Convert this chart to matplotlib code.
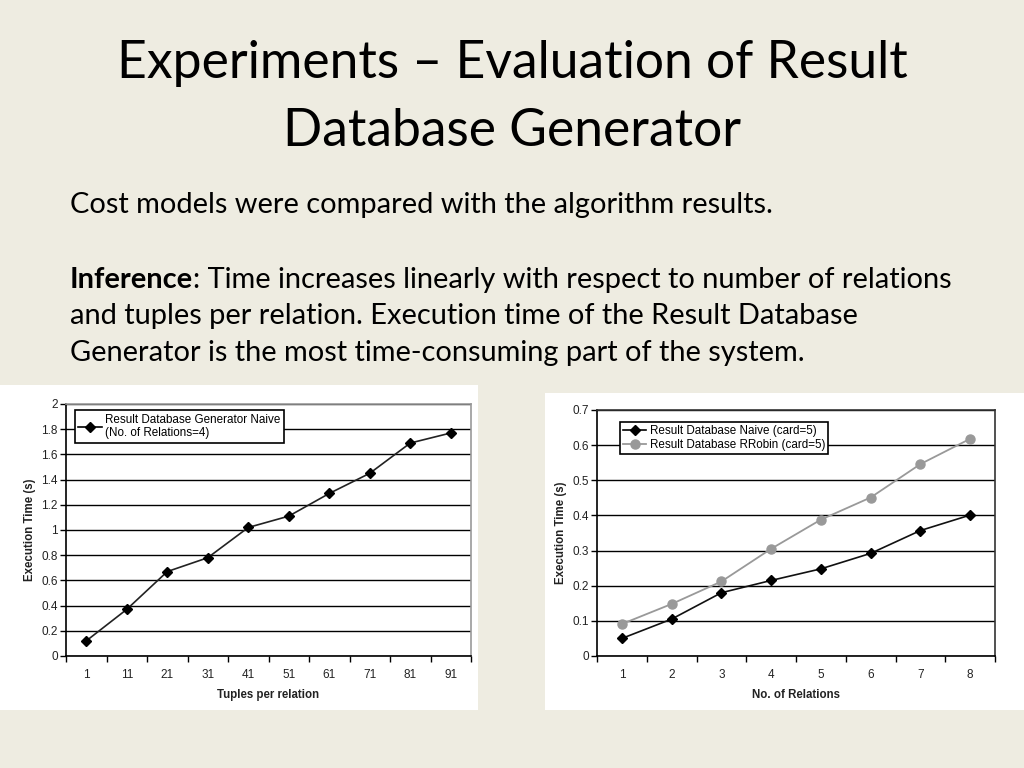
import matplotlib
matplotlib.use('Agg')
import matplotlib.pyplot as plt
from matplotlib.lines import Line2D

# ================== data ==================
TUPLES = ['1', '11', '21', '31', '41', '51', '61', '71', '81', '91']
TIME_NAIVE_TUPLES = [0.12, 0.37, 0.67, 0.78, 1.02, 1.11, 1.29, 1.45, 1.69, 1.77]

RELATIONS = ['1', '2', '3', '4', '5', '6', '7', '8']
TIME_NAIVE_REL = [0.05, 0.105, 0.18, 0.215, 0.248, 0.292, 0.357, 0.401]
TIME_RROBIN_REL = [0.091, 0.148, 0.212, 0.305, 0.388, 0.451, 0.546, 0.618]

LEFT_YTICKS = [0, 0.2, 0.4, 0.6, 0.8, 1, 1.2, 1.4, 1.6, 1.8, 2]
RIGHT_YTICKS = [0, 0.1, 0.2, 0.3, 0.4, 0.5, 0.6, 0.7]

BG = '#EEECE1'
W, H = 1024, 768

fig = plt.figure(figsize=(W / 100, H / 100), dpi=100, facecolor=BG)


def px_rect(x0, y0, x1, y1):
    """pixel box (top-left origin) -> figure fraction rect"""
    return [x0 / W, 1 - y1 / H, (x1 - x0) / W, (y1 - y0) / H]


# white panels behind the charts
for box in [(0, 385, 478, 710), (545, 393, 1024, 710)]:
    bg = fig.add_axes(px_rect(*box))
    bg.set_facecolor('white')
    bg.set_xticks([])
    bg.set_yticks([])
    for s in bg.spines.values():
        s.set_visible(False)

# ================== text ==================
TITLE_FONT = ['Lato', 'DejaVu Sans']
TITLE_FS = 37.2
fig.text(0.5, 1 - 78 / H, 'Experiments – Evaluation of Result', ha='center', va='baseline',
         fontsize=TITLE_FS, family=TITLE_FONT)
fig.text(0.5, 1 - 146 / H, 'Database Generator', ha='center', va='baseline',
         fontsize=TITLE_FS, family=TITLE_FONT)

BODY = 20.9
fig.text(70 / W, 1 - 213 / H, 'Cost models were compared with the algorithm results.',
         va='baseline', fontsize=BODY, family=TITLE_FONT)

renderer = fig.canvas.get_renderer()
t_bold = fig.text(70 / W, 1 - 288 / H, 'Inference', va='baseline', fontsize=BODY,
                  family=TITLE_FONT, fontweight='bold')
bb = t_bold.get_window_extent(renderer)
fig.text(bb.x1 / W, 1 - 288 / H,
         ': Time increases linearly with respect to number of relations',
         va='baseline', fontsize=BODY, family=TITLE_FONT)
fig.text(70 / W, 1 - 324 / H,
         'and tuples per relation. Execution time of the Result Database',
         va='baseline', fontsize=BODY, family=TITLE_FONT)
fig.text(70 / W, 1 - 361 / H,
         'Generator is the most time-consuming part of the system.',
         va='baseline', fontsize=BODY, family=TITLE_FONT)

CHART_FONT = ['Liberation Sans', 'DejaVu Sans']
TICK_FS = 8.5
LEG_FS = 8.4


def style_axes(ax, n, yticks, ylabel, xlabel, edge_col):
    ax.set_facecolor('white')
    ax.set_xlim(0, n)
    ax.set_ylim(yticks[0], yticks[-1])
    ax.set_yticks(yticks)
    ax.set_yticklabels([('%g' % v) for v in yticks], fontsize=TICK_FS, family=CHART_FONT,
                       color='#222222')
    ax.set_xticks(range(n + 1))
    ax.set_xticklabels([])
    ax.set_xticks([i + 0.5 for i in range(n)], minor=True)
    ax.tick_params(axis='x', which='major', direction='out', length=4, width=1)
    ax.tick_params(axis='x', which='minor', length=0, pad=9)
    ax.tick_params(axis='y', direction='out', length=4, width=1, pad=2)
    ax.yaxis.grid(True, color='black', linewidth=1)
    ax.set_axisbelow(True)
    ax.spines['left'].set_color('black')
    ax.spines['bottom'].set_color('black')
    ax.spines['top'].set_color(edge_col)
    ax.spines['right'].set_color(edge_col)
    for s in ax.spines.values():
        s.set_linewidth(1.2)
    ax.set_ylabel(ylabel, fontsize=8.3, fontweight='bold', family=CHART_FONT, labelpad=4,
                  color='#222222')
    ax.set_xlabel(xlabel, fontsize=8.3, fontweight='bold', family=CHART_FONT, labelpad=6,
                  color='#222222')


# ================== left chart ==================
ax1 = fig.add_axes(px_rect(66, 404, 471, 656))
style_axes(ax1, len(TUPLES), LEFT_YTICKS, 'Execution Time (s)', 'Tuples per relation', '#999999')
ax1.set_xticklabels(TUPLES, minor=True, fontsize=TICK_FS, family=CHART_FONT, color='#222222')
x1 = [i + 0.5 for i in range(len(TUPLES))]
ax1.plot(x1, TIME_NAIVE_TUPLES, color='#222222', linewidth=1.2, marker='D', markersize=5.5,
         markerfacecolor='black', markeredgecolor='black', zorder=3)
h1 = Line2D([], [], color='black', linewidth=1.2, marker='D', markersize=5.5)
leg1 = ax1.legend([h1], ['Result Database Generator Naive\n(No. of Relations=4)'],
                  loc='upper left', bbox_to_anchor=(0.022, 0.976), fancybox=False,
                  framealpha=1, edgecolor='black', prop={'family': CHART_FONT, 'size': LEG_FS},
                  handlelength=2.0, handletextpad=0.3, borderpad=0.3, borderaxespad=0)
leg1.get_frame().set_linewidth(1.2)

# ================== right chart ==================
ax2 = fig.add_axes(px_rect(597, 410, 995, 656))
style_axes(ax2, len(RELATIONS), RIGHT_YTICKS, 'Execution Time (s)', 'No. of Relations', '#333333')
ax2.set_xticklabels(RELATIONS, minor=True, fontsize=TICK_FS, family=CHART_FONT, color='#222222')
x2 = [i + 0.5 for i in range(len(RELATIONS))]
ax2.plot(x2, TIME_RROBIN_REL, color='#999999', linewidth=1.3, marker='o', markersize=6.5,
         markerfacecolor='#999999', markeredgecolor='#999999', zorder=3)
ax2.plot(x2, TIME_NAIVE_REL, color='#111111', linewidth=1.2, marker='D', markersize=5.5,
         markerfacecolor='black', markeredgecolor='black', zorder=4)
h_n = Line2D([], [], color='black', linewidth=1.2, marker='D', markersize=5.5)
h_r = Line2D([], [], color='#999999', linewidth=1.3, marker='o', markersize=6.5)
leg2 = ax2.legend([h_n, h_r], ['Result Database Naive (card=5)', 'Result Database RRobin (card=5)'],
                  loc='upper left', bbox_to_anchor=(0.058, 0.95), fancybox=False,
                  framealpha=1, edgecolor='black', prop={'family': CHART_FONT, 'size': LEG_FS},
                  handlelength=2.0, handletextpad=0.3, borderpad=0.25, labelspacing=0.15,
                  borderaxespad=0)
leg2.get_frame().set_linewidth(1.2)

fig.savefig('out.png', dpi=100, facecolor=BG)
